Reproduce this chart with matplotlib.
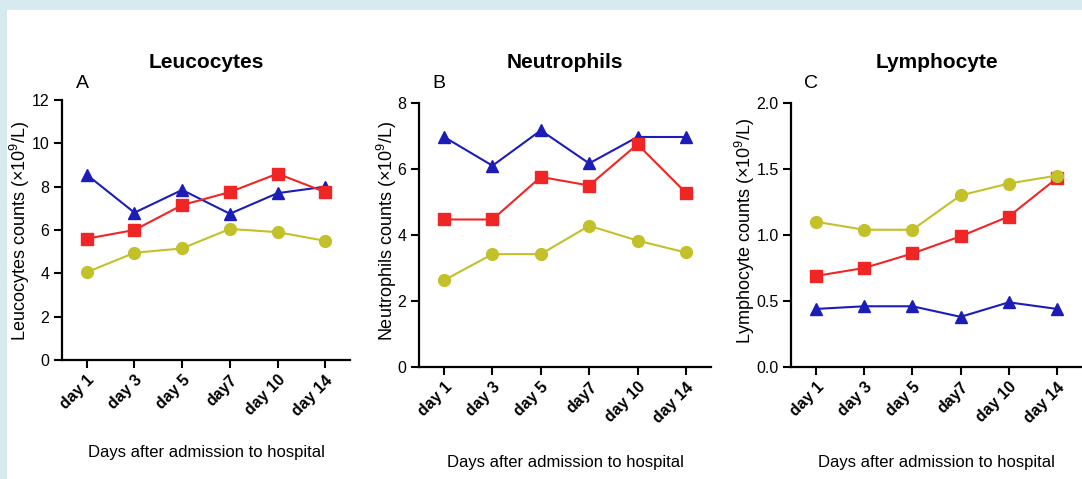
import numpy as np
import matplotlib
matplotlib.use('Agg')
import matplotlib.pyplot as plt

plt.rcParams['font.family'] = ['Liberation Sans', 'DejaVu Sans']
plt.rcParams['mathtext.fontset'] = 'custom'
plt.rcParams['mathtext.rm'] = 'Liberation Sans'
plt.rcParams['mathtext.it'] = 'Liberation Sans'

days = ['day 1', 'day 3', 'day 5', 'day7', 'day 10', 'day 14']

leu_blue = [8.55, 6.8, 7.85, 6.75, 7.7, 8.0]
leu_red = [5.6, 6.0, 7.15, 7.75, 8.6, 7.75]
leu_yellow = [4.05, 4.95, 5.15, 6.05, 5.9, 5.5]

neu_blue = [6.97, 6.1, 7.17, 6.17, 6.97, 6.97]
neu_red = [4.47, 4.47, 5.76, 5.5, 6.75, 5.28]
neu_yellow = [2.63, 3.42, 3.42, 4.28, 3.83, 3.47]

lym_blue = [0.44, 0.46, 0.46, 0.38, 0.49, 0.44]
lym_red = [0.69, 0.75, 0.86, 0.99, 1.14, 1.43]
lym_yellow = [1.1, 1.04, 1.04, 1.3, 1.39, 1.45]

BLUE = '#1c1cb8'
RED = '#f02626'
YELLOW = '#c3c12a'

fig = plt.figure(figsize=(10.82, 4.79), dpi=100)
fig.patch.set_facecolor('#d6eaf0')
fig.add_artist(plt.Rectangle((7 / 1082, 0), 1, 1 - 10 / 479, transform=fig.transFigure,
                             facecolor='white', edgecolor='none', zorder=0))

panels = [
    dict(rect=[62, 350, 100, 360], data=(leu_blue, leu_red, leu_yellow), ymax=12,
         yticks=[0, 2, 4, 6, 8, 10, 12], fmt='{:.0f}', title='Leucocytes', letter='A',
         ylabel='Leucocytes counts (\u00d710$^9$/L)', ylx=20, xly=452),
    dict(rect=[419, 711, 103, 367], data=(neu_blue, neu_red, neu_yellow), ymax=8,
         yticks=[0, 2, 4, 6, 8], fmt='{:.0f}', title='Neutrophils', letter='B',
         ylabel='Neutrophils counts (\u00d710$^9$/L)', ylx=387, xly=462),
    dict(rect=[791, 1082, 103, 367], data=(lym_blue, lym_red, lym_yellow), ymax=2,
         yticks=[0, 0.5, 1.0, 1.5, 2.0], fmt='{:.1f}', title='Lymphocyte', letter='C',
         ylabel='Lymphocyte counts (\u00d710$^9$/L)', ylx=745, xly=462),
]

W, H = 1082, 479
x = np.arange(len(days))
for p in panels:
    x0, x1, yt, yb = p['rect']
    ax = fig.add_axes([x0 / W, 1 - yb / H, (x1 - x0) / W, (yb - yt) / H])
    ax.set_facecolor('none')
    b, r, yl = p['data']
    ax.plot(x, b, color=BLUE, marker='^', markersize=8.5, lw=1.5, clip_on=False)
    ax.plot(x, r, color=RED, marker='s', markersize=8.5, lw=1.5, clip_on=False)
    ax.plot(x, yl, color=YELLOW, marker='o', markersize=8.5, lw=1.5, clip_on=False)
    ax.set_xlim(-0.52, 5.52)
    ax.set_ylim(0, p['ymax'])
    ax.set_yticks(p['yticks'])
    ax.set_yticklabels([p['fmt'].format(v) for v in p['yticks']], fontsize=11.5)
    ax.set_xticks(x)
    ax.set_xticklabels(days, rotation=45, ha='right', rotation_mode='anchor',
                       fontsize=11.5, fontweight='bold')
    for s in ['top', 'right']:
        ax.spines[s].set_visible(False)
    for s in ['left', 'bottom']:
        ax.spines[s].set_linewidth(1.6)
    ax.tick_params(direction='out', length=6, width=1.5, pad=3)
    cx = (x0 + x1) / 2
    fig.text(cx / W, 1 - 62 / H, p['title'], ha='center', va='center',
             fontsize=15, fontweight='bold')
    fig.text((x0 + 20) / W, 1 - 83 / H, p['letter'], ha='center', va='center', fontsize=14)
    fig.text(p['ylx'] / W, 1 - 231 / H, p['ylabel'], ha='center', va='center',
             rotation=90, fontsize=13)
    fig.text(cx / W, 1 - p['xly'] / H, 'Days after admission to hospital', ha='center',
             va='center', fontsize=12)

fig.savefig('out.png', dpi=100, facecolor=fig.get_facecolor())
